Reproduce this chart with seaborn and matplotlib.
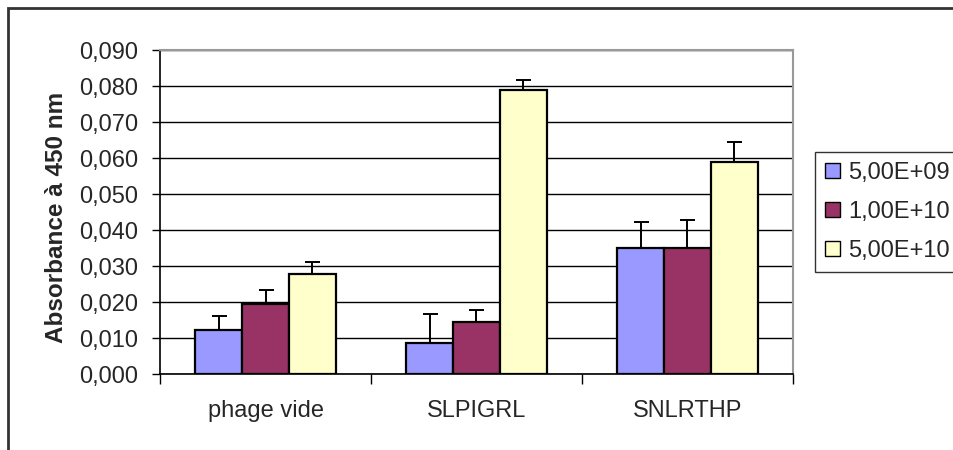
import numpy as np
import pandas as pd
import seaborn as sns
import matplotlib.pyplot as plt
from matplotlib.ticker import FuncFormatter

# values
categories = ["phage vide", "SLPIGRL", "SNLRTHP"]
concentrations = ["5,00E+09", "1,00E+10", "5,00E+10"]
val_5e9 = [0.0121, 0.0087, 0.0349]
val_1e10 = [0.0194, 0.0144, 0.0349]
val_5e10 = [0.0277, 0.0788, 0.0588]
err_5e9 = [0.0040, 0.0079, 0.0072]
err_1e10 = [0.0038, 0.0033, 0.0078]
err_5e10 = [0.0033, 0.0028, 0.0056]
colors = ["#9999FF", "#993366", "#FFFFCC"]

values = [val_5e9, val_1e10, val_5e10]
errors = [err_5e9, err_1e10, err_5e10]

rows = []
for conc, vals in zip(concentrations, values):
    for cat, v in zip(categories, vals):
        rows.append({"peptide": cat, "conc": conc, "abs": v})
df = pd.DataFrame(rows)

sns.set_style("white")
plt.rcParams["font.family"] = ["Liberation Sans", "DejaVu Sans"]
fs = 17

fig = plt.figure(figsize=(9.54, 4.5), dpi=100)
ax = fig.add_axes([160 / 954, 76 / 450, 633 / 954, 324 / 450])

sns.barplot(data=df, x="peptide", y="abs", hue="conc", order=categories,
            hue_order=concentrations, palette=colors, width=0.665, gap=0,
            edgecolor="black", linewidth=1.6, saturation=1, ax=ax, zorder=3)

# upper-only error bars, positioned from the drawn bars
for container, errs in zip(ax.containers, errors):
    xs = [b.get_x() + b.get_width() / 2 for b in container]
    ys = [b.get_height() for b in container]
    ax.errorbar(xs, ys, yerr=[np.zeros(len(errs)), errs], fmt="none",
                ecolor="black", elinewidth=1.4, capsize=5.4, capthick=1.4,
                zorder=4)

ax.set_xlim(-0.5, 2.5)
ax.set_ylim(0, 0.09)
ax.set_yticks(np.arange(0, 0.0901, 0.01))
ax.yaxis.set_major_formatter(FuncFormatter(lambda v, p: f"{v:.3f}".replace(".", ",")))
ax.grid(axis="y", color="black", linewidth=1, zorder=0)
ax.set_axisbelow(True)

ax.set_xticks([-0.5, 0.5, 1.5, 2.5])
ax.set_xticklabels([])
ax.set_xticks([0, 1, 2], minor=True)
ax.set_xticklabels(categories, minor=True)
ax.tick_params(axis="x", which="major", direction="out", length=7, width=1,
               color="black", bottom=True)
ax.tick_params(axis="x", which="minor", length=0, pad=19, labelsize=fs)
ax.tick_params(axis="y", direction="out", length=6, width=1, color="black",
               left=True, pad=10, labelsize=fs)

ax.set_xlabel("")
ax.set_ylabel("Absorbance à 450 nm", fontsize=fs + 0.5, fontweight="bold")
ax.yaxis.set_label_coords((68 - 160) / 633, (374 - 217) / 324)

for side in ["left", "bottom"]:
    ax.spines[side].set_color("black")
    ax.spines[side].set_linewidth(1.2)
for side in ["top", "right"]:
    ax.spines[side].set_visible(True)
    ax.spines[side].set_color("#999999")
    ax.spines[side].set_linewidth(1.5)

handles, labels = ax.get_legend_handles_labels()
ax.get_legend().remove()
leg = fig.legend(handles, labels, loc="upper left",
                 bbox_to_anchor=(815 / 954, 1 - 152 / 450), fontsize=fs,
                 frameon=True, fancybox=False, edgecolor="black",
                 handlelength=0.64, handleheight=0.64, handletextpad=0.34,
                 labelspacing=0.72, borderpad=0.42, borderaxespad=0)
leg.get_frame().set_linewidth(1)
for h in leg.legend_handles:
    h.set_linewidth(1)

# outer chart frame
fig.add_artist(plt.Rectangle((8 / 954, -0.1), 1.2, 1 - 8 / 450 + 0.1,
                             fill=False, edgecolor="#333333", linewidth=2,
                             transform=fig.transFigure, clip_on=False))

fig.savefig("out.png", dpi=100, facecolor="white")
